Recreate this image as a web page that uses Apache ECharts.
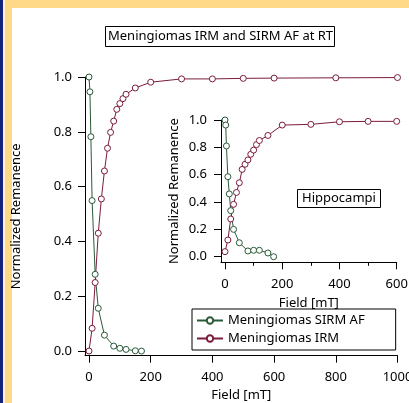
<!DOCTYPE html>
<html>
<head>
<meta charset="utf-8">
<script src="https://cdn.jsdelivr.net/npm/echarts@6/dist/echarts.min.js"></script>
<style>
  html, body { margin: 0; padding: 0; background: #fff; }
  #chart { width: 409px; height: 403px; }
</style>
</head>
<body>
<div id="chart"></div>
<script>
// meningiomas, big plot
var mainSirmField = [0, 3, 6, 10, 20, 30, 50, 80, 100, 120, 150, 170]
var mainSirmValue = [1.0, 0.946, 0.782, 0.549, 0.28, 0.156, 0.058, 0.018, 0.01, 0.006, 0.001, 0.0]
var mainIrmField = [0, 10, 20, 30, 40, 50, 60, 70, 80, 90, 100, 110, 120, 150, 200, 300, 400, 500, 600, 800, 1000]
var mainIrmValue = [0, 0.083, 0.25, 0.43, 0.555, 0.657, 0.74, 0.798, 0.839, 0.882, 0.903, 0.921, 0.937, 0.96, 0.981, 0.993, 0.993, 0.995, 0.996, 0.997, 0.998]

// hippocampi, inset
var hipSirmField = [0, 2.5, 5, 10, 15, 20, 30, 50, 80, 100, 120, 150, 170]
var hipSirmValue = [1.0, 0.963, 0.81, 0.585, 0.459, 0.337, 0.2, 0.102, 0.042, 0.047, 0.047, 0.027, 0.0]
var hipIrmField = [0, 10, 20, 30, 40, 50, 60, 70, 80, 90, 100, 110, 120, 150, 200, 300, 400, 500, 600]
var hipIrmValue = [0.037, 0.122, 0.276, 0.383, 0.47, 0.541, 0.639, 0.676, 0.708, 0.749, 0.78, 0.82, 0.85, 0.887, 0.963, 0.968, 0.987, 0.99, 0.99]

var mainFieldTicks = [0, 200, 400, 600, 800, 1000]
var insetFieldTicks = [0, 200, 400, 600]
var insetMinorTicks = [100, 300, 500]
var remTicks = [0, 0.2, 0.4, 0.6, 0.8, 1.0]

var GREEN = '#2b5a38'
var MAROON = '#7a1c3e'
var FONT = 'Noto Sans'

function pairs(xs, ys) {
  return xs.map(function (x, i) { return [x, ys[i]] })
}

function xAxis(grid, min, max, ticks, margin, nameGap) {
  return {
    type: 'value', gridIndex: grid, min: min, max: max,
    name: 'Field [mT]', nameLocation: 'middle', nameGap: nameGap,
    nameTextStyle: { color: '#000', fontSize: 13, fontFamily: FONT },
    axisLine: { show: true, onZero: false, lineStyle: { color: '#000', width: 1 } },
    axisTick: { show: true, length: 7, customValues: ticks, lineStyle: { color: '#000' } },
    axisLabel: {
      customValues: ticks, color: '#000', fontSize: 13, fontFamily: FONT, margin: margin,
      formatter: function (v) { return String(v) }
    },
    splitLine: { show: false }
  }
}

function yAxis(grid, min, nameGap, margin) {
  return {
    type: 'value', gridIndex: grid, min: min, max: 1,
    name: 'Normalized Remanence', nameLocation: 'middle', nameGap: nameGap,
    nameTextStyle: { color: '#000', fontSize: 13, fontFamily: FONT },
    axisLine: { show: true, onZero: false, lineStyle: { color: '#000', width: 1 } },
    axisTick: { show: true, length: 7, customValues: remTicks, lineStyle: { color: '#000' } },
    axisLabel: {
      customValues: remTicks, color: '#000', fontSize: 13, fontFamily: FONT, margin: margin,
      formatter: function (v) { return v.toFixed(1) }
    },
    splitLine: { show: false }
  }
}

function line(name, data, color, xi, yi) {
  return {
    type: 'line', name: name, data: data,
    xAxisIndex: xi, yAxisIndex: yi,
    symbol: 'circle', symbolSize: 6, showSymbol: true,
    lineStyle: { color: color, width: 1 },
    itemStyle: { color: '#fff', borderColor: color, borderWidth: 1 },
    animation: false
  }
}

var chart = echarts.init(document.getElementById('chart'), null, { width: 409, height: 403 })

var option = {
  backgroundColor: '#fff',
  animation: false,
  graphic: [
    { type: 'rect', shape: { x: 0, y: 0, width: 409, height: 8 }, style: { fill: '#ffd987' }, silent: true },
    { type: 'rect', shape: { x: 5, y: 0, width: 7, height: 403 }, style: { fill: '#ffd987' }, silent: true },
    { type: 'rect', shape: { x: 3, y: 0, width: 2, height: 403 }, style: { fill: '#fff2d2' }, silent: true },
    { type: 'rect', shape: { x: 0, y: 0, width: 3, height: 403 }, style: { fill: '#14237e' }, silent: true }
  ],
  title: [{
    text: 'Meningiomas IRM and SIRM AF at RT',
    left: 105, top: 26,
    padding: [4, 2, 4, 3],
    borderColor: '#000', borderWidth: 1,
    textStyle: { color: '#000', fontSize: 13, fontWeight: 'normal', fontFamily: FONT }
  }, {
    text: 'Hippocampi',
    left: 297, top: 189,
    padding: [3, 5, 3, 5],
    borderColor: '#000', borderWidth: 1, backgroundColor: '#fff',
    textStyle: { color: '#000', fontSize: 13, fontWeight: 'normal', fontFamily: FONT }
  }],
  legend: {
    data: ['Meningiomas SIRM AF', 'Meningiomas IRM'],
    orient: 'vertical', left: 192, top: 309,
    padding: [5, 31, 5, 4], itemGap: 5,
    itemWidth: 26, itemHeight: 8,
    borderColor: '#000', borderWidth: 1, backgroundColor: '#fff',
    textStyle: { color: '#000', fontSize: 13, fontFamily: FONT }
  },
  grid: [
    { left: 85, right: 11.5, top: 77, bottom: 47.3, outerBoundsMode: 'none' },
    { left: 221, right: 12.3, top: 120, bottom: 140.7, outerBoundsMode: 'none' }
  ],
  xAxis: [
    xAxis(0, -13, 1000, mainFieldTicks, 15, 31),
    xAxis(1, -14, 600, insetFieldTicks, 15, 34),
    {
      type: 'value', gridIndex: 1, min: -14, max: 600, position: 'bottom',
      axisLine: { show: false, onZero: false },
      axisTick: { show: true, length: 3.5, customValues: insetMinorTicks, lineStyle: { color: '#000' } },
      axisLabel: { show: false },
      splitLine: { show: false }
    }
  ],
  yAxis: [
    yAxis(0, -0.017, 62, 13),
    yAxis(1, -0.041, 40, 14)
  ],
  series: [
    line('Meningiomas SIRM AF', pairs(mainSirmField, mainSirmValue), GREEN, 0, 0),
    line('Meningiomas IRM', pairs(mainIrmField, mainIrmValue), MAROON, 0, 0),
    line('Hippocampi SIRM AF', pairs(hipSirmField, hipSirmValue), GREEN, 1, 1),
    line('Hippocampi IRM', pairs(hipIrmField, hipIrmValue), MAROON, 1, 1)
  ]
}

chart.setOption(option)
</script>
</body>
</html>
